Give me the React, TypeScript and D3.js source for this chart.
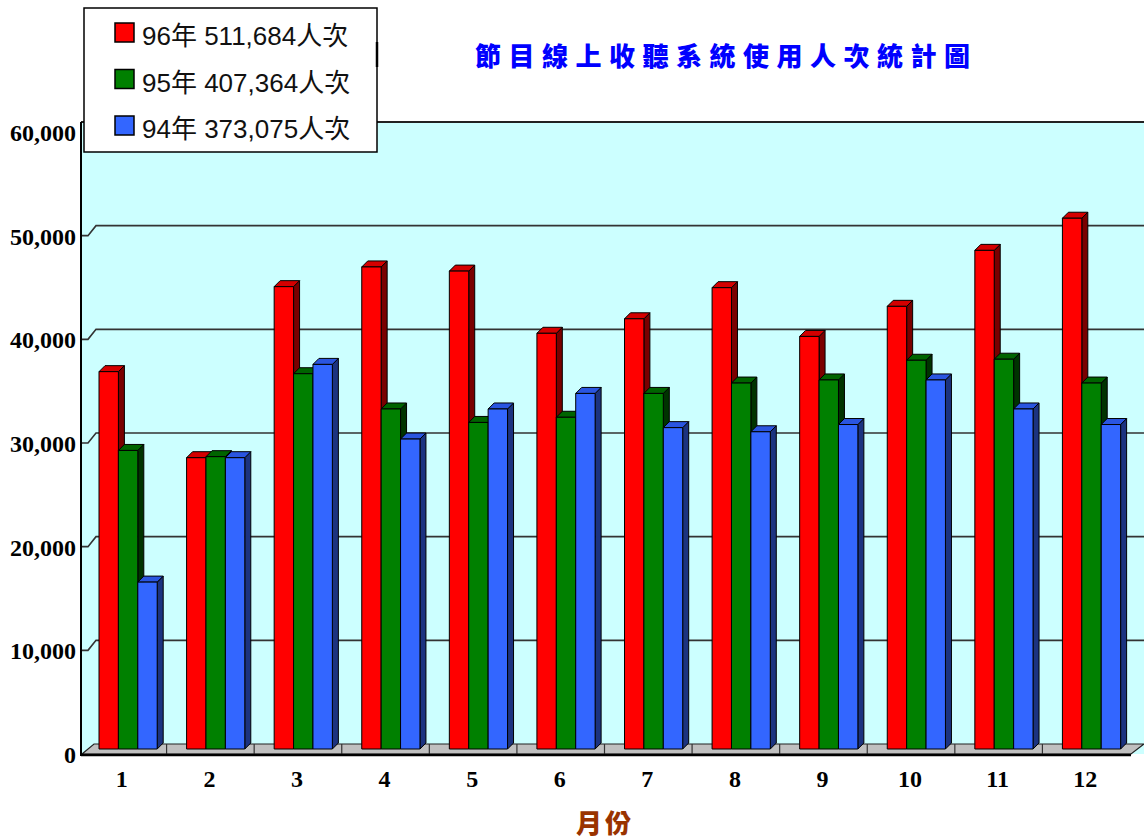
import * as d3 from "d3";

const months = ["1", "2", "3", "4", "5", "6", "7", "8", "9", "10", "11", "12"];
const seriesKeys = ["96", "95", "94"];
const seriesLabels = ["96年 511,684人次", "95年 407,364人次", "94年 373,075人次"];
const v96 = [36400, 28100, 44600, 46500, 46100, 40100, 41500, 44500, 39800, 42700, 48100, 51200];
const v95 = [28800, 28200, 36200, 32800, 31500, 32000, 34300, 35300, 35600, 37500, 37600, 35300];
const v94 = [16100, 28100, 37100, 29900, 32800, 34300, 31000, 30600, 31300, 35600, 32800, 31300];
const yTicks = [0, 10000, 20000, 30000, 40000, 50000, 60000];
const title = "節目線上收聽系統使用人次統計圖";
const xTitle = "月份";

// face colours: front, side, top
const palette = [
  { front: "#ff0000", side: "#7a0000", top: "#d40000" },
  { front: "#008000", side: "#003300", top: "#006400" },
  { front: "#3366ff", side: "#1c3380", top: "#2a55e0" },
];

const W = 1144;
const H = 839;
const D = 6; // bar depth offset
const WALL = 10; // floor depth offset

export default function App() {
  const data = [v96, v95, v94];
  const x = d3.scaleBand<string>().domain(months).range([79, 1130]);
  const inner = d3.scaleBand<string>().domain(seriesKeys).range([20, 78.2]);
  const yBar = d3.scaleLinear().domain([0, 60000]).range([749, 127]);
  const yBack = d3.scaleLinear().domain([0, 60000]).range([744, 122]);
  const fmt = d3.format(",");
  const left = 81;
  const base = yBar(0);

  const bars: JSX.Element[] = [];
  months.forEach((m, i) => {
    seriesKeys.forEach((k, s) => {
      const v = data[s][i];
      const x0 = (x(m) ?? 0) + (inner(k) ?? 0);
      const w = inner.bandwidth();
      const top = yBar(v);
      const c = palette[s];
      bars.push(
        <g key={m + k} stroke="#000" strokeWidth={1} strokeLinejoin="round">
          <polygon
            points={`${x0 + w},${top} ${x0 + w + D},${top - D} ${x0 + w + D},${base - D} ${x0 + w},${base}`}
            fill={c.side}
          />
          <polygon
            points={`${x0},${top} ${x0 + D},${top - D} ${x0 + w + D},${top - D} ${x0 + w},${top}`}
            fill={c.top}
          />
          <rect x={x0} y={top} width={w} height={base - top} fill={c.front} />
        </g>
      );
    });
  });

  return (
    <svg
      width={W}
      height={H}
      style={{ position: "absolute", left: 0, top: 0, background: "#fff" }}
    >
      {/* back wall */}
      <rect x={left} y={yBack(60000)} width={W - left} height={754 - yBack(60000)} fill="#ccffff" />
      <line x1={left} x2={W} y1={yBack(60000)} y2={yBack(60000)} stroke="#222" strokeWidth={2} />
      {yTicks.slice(1, -1).map((t) => (
        <path
          key={t}
          d={`M${left},${yBack(t) + WALL} L${left + 7},${yBack(t) + WALL} L${left + 15},${yBack(t)} L${W},${yBack(t)}`}
          fill="none"
          stroke="#333"
          strokeWidth={1.6}
        />
      ))}
      {/* floor */}
      <polygon
        points={`${left + 1},754 ${left + 13},${744} ${W},${744} ${1131},754`}
        fill="#c0c0c0"
        stroke="#222"
        strokeWidth={1.2}
      />
      {months.slice(1).map((m) => (
        <line key={m} x1={x(m)} x2={x(m)} y1={744} y2={754} stroke="#333" strokeWidth={1.2} />
      ))}
      <line x1={left} x2={1131} y1={755} y2={755} stroke="#000" strokeWidth={2.5} />
      <line x1={left} x2={left} y1={yBack(60000)} y2={756} stroke="#000" strokeWidth={2} />

      {bars}

      {/* y axis labels */}
      <g fontFamily="'Liberation Serif', serif" fontWeight="bold" fontSize={24} fill="#000" textAnchor="end">
        {yTicks.map((t) => (
          <text key={t} x={76} y={yBack(t) + 19}>
            {fmt(t)}
          </text>
        ))}
      </g>
      {/* x axis labels */}
      <g fontFamily="'Liberation Serif', serif" fontWeight="bold" fontSize={24} fill="#000" textAnchor="middle">
        {months.map((m) => (
          <text key={m} x={(x(m) ?? 0) + x.bandwidth() / 2 - 1} y={787}>
            {m}
          </text>
        ))}
      </g>
      <text
        x={605}
        y={833}
        textAnchor="middle"
        fontFamily="'Noto Sans CJK TC', sans-serif"
        fontWeight={900}
        fontSize={26}
        letterSpacing={3}
        fill="#993300"
      >
        {xTitle}
      </text>

      {/* title */}
      <text
        x={475}
        y={66}
        fontFamily="'Noto Sans CJK TC', sans-serif"
        fontWeight={900}
        fontSize={26}
        letterSpacing={7.5}
        fill="#0000ff"
      >
        {title}
      </text>

      {/* legend */}
      <rect x={84} y={8} width={293} height={144} fill="#fff" stroke="#000" strokeWidth={1.5} />
      <line x1={377} x2={377} y1={42} y2={67} stroke="#000" strokeWidth={2.5} />
      {seriesLabels.map((lab, s) => {
        const yb = 45 + s * 46.5;
        return (
          <g key={lab}>
            <rect x={115} y={yb - 22} width={19} height={19} fill={palette[s].front} stroke="#000" strokeWidth={1.5} />
            <text
              x={142}
              y={yb}
              fontFamily="'Liberation Sans', 'Noto Sans CJK TC', sans-serif"
              fontSize={26}
              fill="#111"
            >
              {lab}
            </text>
          </g>
        );
      })}
    </svg>
  );
}
